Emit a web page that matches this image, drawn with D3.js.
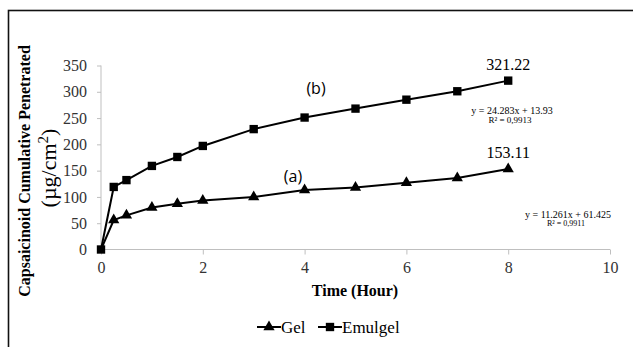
<!DOCTYPE html>
<html>
<head>
<meta charset="utf-8">
<script src="https://cdn.jsdelivr.net/npm/d3@7"></script>
<style>
  body { margin: 0; background: #fff; }
  svg { display: block; }
  svg text { font-family: "Liberation Serif", "Times New Roman", serif; }
</style>
</head>
<body>
<svg id="chart" width="633" height="347"></svg>
<script>
// hours sampled
const hours = [0, 0.25, 0.5, 1, 1.5, 2, 3, 4, 5, 6, 7, 8];
const gel = [0, 56, 65, 80, 87, 93, 100, 113, 118, 127, 136, 153.11];
const emulgel = [0, 119, 132, 159, 176, 197, 229, 251, 268, 285, 301, 321.22];
const xTicks = [0, 2, 4, 6, 8, 10];
const yTicks = [0, 50, 100, 150, 200, 250, 300, 350];

const svg = d3.select('#chart');
const serif = '"Liberation Serif", "Times New Roman", serif';

// outer frame (right/bottom fall off the canvas)
svg.append('rect')
  .attr('x', 8.5).attr('y', 10.5)
  .attr('width', 640).attr('height', 360)
  .attr('fill', 'none').attr('stroke', '#111').attr('stroke-width', 1.6);

const x = d3.scaleLinear().domain([0, 10]).range([101, 610]);
const y = d3.scaleLinear().domain([0, 350]).range([249.5, 65.5]);

const grey = '#bfbfbf';

// x axis
const gx = svg.append('g').attr('transform', `translate(0,${y(0)})`)
  .call(d3.axisBottom(x).tickValues(xTicks).tickSize(5).tickPadding(7));
gx.attr('font-family', serif).attr('font-size', 16);
gx.select('.domain').attr('stroke', grey).attr('d', `M${x(0)},0H${x(10)}`);
gx.selectAll('line').attr('stroke', grey);
gx.selectAll('text').attr('fill', '#333');

// y axis
const gy = svg.append('g').attr('transform', `translate(${x(0)},0)`)
  .call(d3.axisLeft(y).tickValues(yTicks).tickSize(4).tickPadding(10));
gy.attr('font-family', serif).attr('font-size', 16);
gy.select('.domain').attr('stroke', grey).attr('d', `M0,${y(0)}V${y(350)}`);
gy.selectAll('line').attr('stroke', grey);
gy.selectAll('text').attr('fill', '#333');

// axis titles
svg.append('text')
  .attr('transform', 'translate(30,171) rotate(-90)')
  .attr('text-anchor', 'middle')
  .attr('font-weight', 'bold').attr('font-size', 16)
  .text('Capsaicinoid Cumulative Penetrated');

const unit = svg.append('text')
  .attr('transform', 'translate(56,168) rotate(-90)')
  .attr('text-anchor', 'middle')
  .attr('font-size', 22);
unit.append('tspan').text('(\u00b5g/cm');
unit.append('tspan').attr('dy', -8).attr('font-size', 15).text('2');
unit.append('tspan').attr('dy', 8).text(')');

svg.append('text')
  .attr('x', 355).attr('y', 296)
  .attr('text-anchor', 'middle')
  .attr('font-weight', 'bold').attr('font-size', 16)
  .text('Time (Hour)');

// series
const line = d3.line().x(d => x(d[0])).y(d => y(d[1]));
const seriesGel = hours.map((h, i) => [h, gel[i]]);
const seriesEmul = hours.map((h, i) => [h, emulgel[i]]);

const tri = d3.symbol().type(d3.symbolTriangle).size(55);
const sq = d3.symbol().type(d3.symbolSquare).size(70);

svg.append('path').datum(seriesGel)
  .attr('d', line).attr('fill', 'none').attr('stroke', '#000').attr('stroke-width', 2);
svg.append('g').selectAll('path').data(seriesGel.slice(1)).join('path')
  .attr('transform', d => `translate(${x(d[0])},${y(d[1])})`)
  .attr('d', tri).attr('fill', '#000');

svg.append('path').datum(seriesEmul)
  .attr('d', line).attr('fill', 'none').attr('stroke', '#000').attr('stroke-width', 2);
svg.append('g').selectAll('path').data(seriesEmul).join('path')
  .attr('transform', d => `translate(${x(d[0])},${y(d[1])})`)
  .attr('d', sq).attr('fill', '#000');

// point labels
svg.append('text').attr('x', x(8)).attr('y', y(321.22) - 11)
  .attr('text-anchor', 'middle').attr('font-size', 16)
  .text('321.22');
svg.append('text').attr('x', x(8)).attr('y', y(153.11) - 11)
  .attr('text-anchor', 'middle').attr('font-size', 16)
  .text('153.11');

svg.append('text').attr('x', 316).attr('y', 94)
  .attr('text-anchor', 'middle').style('font-family', '"Open Sans", sans-serif').attr('font-size', 16)
  .text('(b)');
svg.append('text').attr('x', 293).attr('y', 182)
  .attr('text-anchor', 'middle').style('font-family', '"Open Sans", sans-serif').attr('font-size', 16)
  .text('(a)');

// regression equations
svg.append('text').attr('x', 512).attr('y', 114)
  .attr('text-anchor', 'middle').attr('font-size', 10)
  .text('y = 24.283x + 13.93');
svg.append('text').attr('x', 510).attr('y', 123)
  .attr('text-anchor', 'middle').attr('font-size', 9)
  .text('R\u00b2 = 0,9913');
svg.append('text').attr('x', 568).attr('y', 218)
  .attr('text-anchor', 'middle').attr('font-size', 10)
  .text('y = 11.261x + 61.425');
svg.append('text').attr('x', 566).attr('y', 226)
  .attr('text-anchor', 'middle').attr('font-size', 8)
  .text('R\u00b2 = 0,9911');

// legend
const legend = svg.append('g').attr('transform', 'translate(0,327)');
const items = [
  {name: 'Gel', sym: tri, x0: 257},
  {name: 'Emulgel', sym: sq, x0: 318}
];
items.forEach(it => {
  legend.append('line').attr('x1', it.x0).attr('x2', it.x0 + 24)
    .attr('stroke', '#000').attr('stroke-width', 2);
  legend.append('path').attr('transform', `translate(${it.x0 + 12},0)`)
    .attr('d', it.sym).attr('fill', '#000');
  legend.append('text').attr('x', it.x0 + 24).attr('y', 6)
    .attr('font-size', 17).text(it.name);
});
</script>
</body>
</html>
